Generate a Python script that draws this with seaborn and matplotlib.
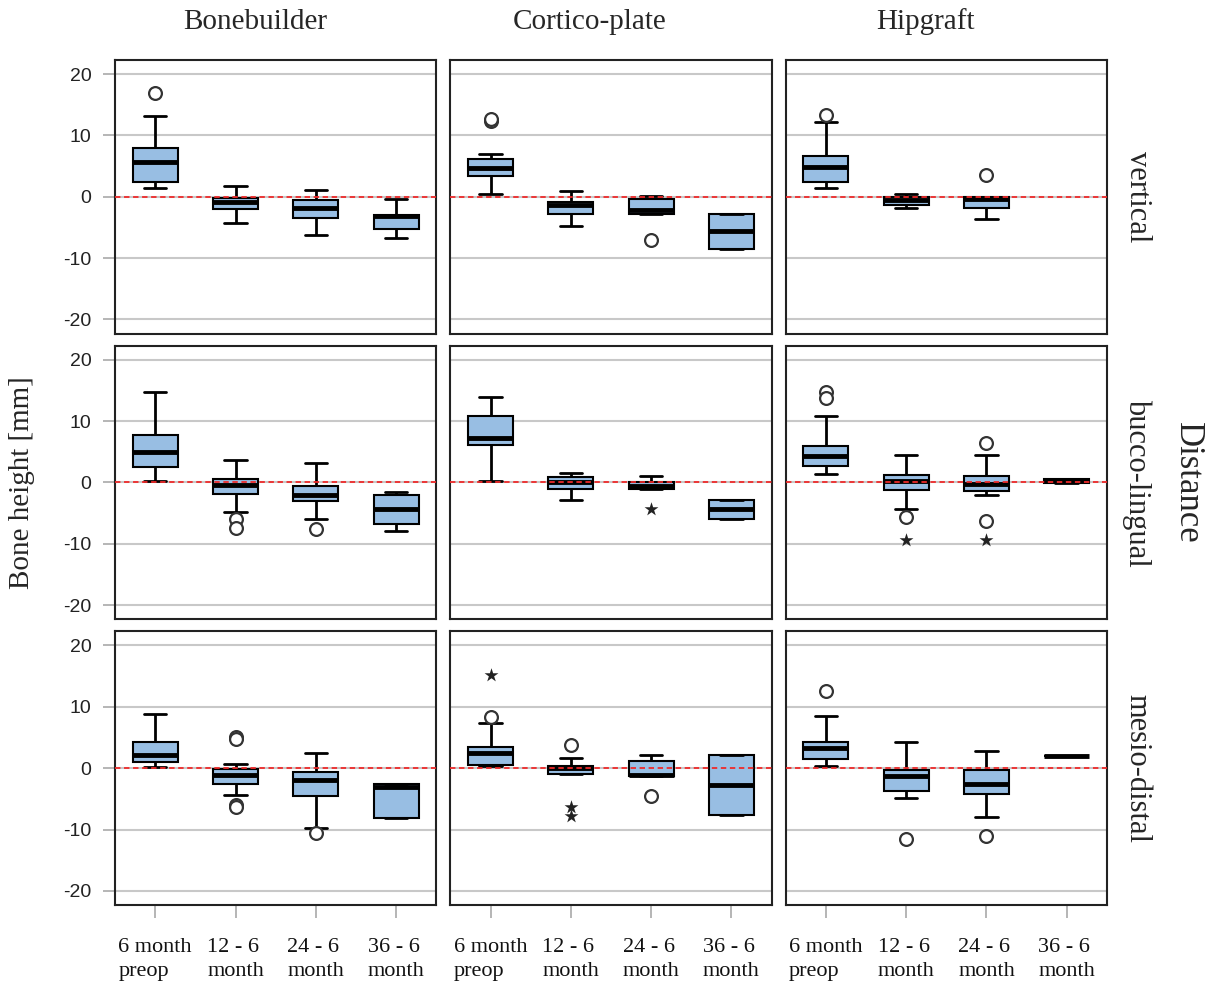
import matplotlib
matplotlib.use("Agg")
import matplotlib.pyplot as plt
import pandas as pd
import seaborn as sns

sns.set_theme(style="white")
plt.rcParams["font.family"] = ["Liberation Serif", "DejaVu Serif"]

GRAFTS = ["Bonebuilder", "Cortico-plate", "Hipgraft"]
DIRECTIONS = ["vertical", "bucco-lingual", "mesio-distal"]
PERIOD_LABELS = ["6 month\npreop", "12 - 6\nmonth", "24 - 6\nmonth", "36 - 6\nmonth"]
Y_TICKS = [-20, -10, 0, 10, 20]

# five-number summaries per period: [lower whisker, Q1, median, Q3, upper whisker]
# None = no data for that period
vertical_boxes = {
    "Bonebuilder": [[1.4, 2.4, 5.6, 7.9, 13.2], [-4.3, -2.0, -0.9, -0.2, 1.8],
                    [-6.2, -3.4, -1.8, -0.5, 1.1], [-6.8, -5.3, -3.2, -3.0, -0.3]],
    "Cortico-plate": [[0.5, 3.3, 4.7, 6.2, 6.9], [-4.7, -2.8, -1.4, -0.8, 0.9],
                      [-2.8, -2.8, -2.1, -0.3, 0.2], [-8.5, -8.5, -5.6, -2.8, -2.8]],
    "Hipgraft": [[1.5, 2.4, 4.8, 6.7, 12.2], [-1.9, -1.4, -0.6, -0.1, 0.4],
                 [-3.6, -1.9, -0.3, -0.1, -0.1], None],
}
bucco_boxes = {
    "Bonebuilder": [[0.2, 2.6, 5.0, 7.8, 14.8], [-4.8, -1.8, -0.4, 0.5, 3.7],
                    [-5.9, -3.1, -2.0, -0.5, 3.2], [-7.9, -6.8, -4.4, -2.1, -1.5]],
    "Cortico-plate": [[0.2, 6.1, 7.2, 10.8, 14.0], [-2.9, -1.1, 0.0, 0.9, 1.6],
                      [-1.1, -1.1, -0.5, 0.05, 1.0], [-5.9, -5.9, -4.4, -2.9, -2.9]],
    "Hipgraft": [[1.4, 2.7, 4.3, 5.9, 10.8], [-4.4, -1.3, 0.2, 1.2, 4.4],
                 [-2.1, -1.4, -0.3, 1.1, 4.4], [-0.1, -0.1, 0.3, 0.6, 0.6]],
}
mesio_boxes = {
    "Bonebuilder": [[0.2, 1.0, 2.2, 4.3, 8.9], [-4.3, -2.5, -1.1, -0.2, 0.65],
                    [-9.8, -4.5, -2.0, -0.6, 2.5], [-8.1, -8.1, -3.1, -2.5, -2.5]],
    "Cortico-plate": [[0.3, 0.5, 2.5, 3.4, 7.4], [-1.0, -1.0, 0.0, 0.4, 1.7],
                      [-1.2, -1.2, -1.1, 1.2, 2.1], [-7.6, -7.6, -2.8, 2.1, 2.1]],
    "Hipgraft": [[0.4, 1.5, 3.25, 4.3, 8.5], [-4.9, -3.7, -1.2, -0.3, 4.2],
                 [-7.9, -4.2, -2.6, -0.3, 2.8], [2.0, 2.0, 2.0, 2.0, 2.0]],
}

# outliers as (period index, value); circles = outliers, stars = extremes
vertical_circles = {"Bonebuilder": [(0, 16.9)],
                    "Cortico-plate": [(0, 12.3), (0, 12.7), (2, -7.1)],
                    "Hipgraft": [(0, 13.3), (2, 3.6)]}
vertical_stars = {}
bucco_circles = {"Bonebuilder": [(1, -6.0), (1, -7.4), (2, -7.6)],
                 "Hipgraft": [(0, 14.8), (0, 13.8), (1, -5.6), (2, 6.5), (2, -6.3)]}
bucco_stars = {"Cortico-plate": [(2, -4.3)],
               "Hipgraft": [(1, -9.3), (2, -9.3)]}
mesio_circles = {"Bonebuilder": [(1, 5.1), (1, 4.8), (1, -6.0), (1, -6.3), (2, -10.6)],
                 "Cortico-plate": [(0, 8.3), (1, 3.7), (2, -4.5)],
                 "Hipgraft": [(0, 12.6), (1, -11.5), (2, -11.0)]}
mesio_stars = {"Cortico-plate": [(0, 15.2), (1, -6.3), (1, -7.8)]}

ROW_BOXES = [vertical_boxes, bucco_boxes, mesio_boxes]
ROW_CIRCLES = [vertical_circles, bucco_circles, mesio_circles]
ROW_STARS = [vertical_stars, bucco_stars, mesio_stars]

BOX_COLOR = "#98bee3"
GRID_COLOR = "#c8c8c8"
TICK_COLOR = "#b0b0b0"

fig, axes = plt.subplots(3, 3, figsize=(12.15, 9.82), dpi=100)
fig.subplots_adjust(left=0.0947, right=0.911, top=0.939, bottom=0.0784,
                    wspace=0.044, hspace=0.044)

for r, direction in enumerate(DIRECTIONS):
    for c, graft in enumerate(GRAFTS):
        ax = axes[r, c]
        rows = []
        for pos, stats in enumerate(ROW_BOXES[r][graft]):
            if stats is None:
                continue
            rows += [(pos, v) for v in stats]
        df = pd.DataFrame(rows, columns=["pos", "value"])
        sns.boxplot(data=df, x="pos", y="value", native_scale=True, orient="x",
                    whis=(0, 100), width=0.56, color=BOX_COLOR, saturation=1,
                    linecolor="black", linewidth=1.5,
                    whiskerprops=dict(linewidth=2.0),
                    capprops=dict(linewidth=2.0),
                    medianprops=dict(linewidth=3.5, color="black"), ax=ax)

        circles = ROW_CIRCLES[r].get(graft, [])
        if circles:
            pts = pd.DataFrame(circles, columns=["pos", "value"])
            sns.scatterplot(data=pts, x="pos", y="value", marker="o", s=85,
                            color="white", edgecolor="#333333", linewidth=1.6,
                            ax=ax, zorder=6)
        stars = ROW_STARS[r].get(graft, [])
        if stars:
            pts = pd.DataFrame(stars, columns=["pos", "value"])
            sns.scatterplot(data=pts, x="pos", y="value", marker="*", s=110,
                            color="#222222", linewidth=0, ax=ax, zorder=6)

        ax.axhline(0, color="#ee2a2a", linestyle=(0, (3, 2)), linewidth=1.3, zorder=5)
        ax.set_xlim(-0.5, 3.5)
        ax.set_ylim(-22.3, 22.3)
        ax.set_yticks(Y_TICKS)
        ax.set_xticks(range(4))
        ax.yaxis.grid(True, color=GRID_COLOR, linewidth=1.5)
        ax.xaxis.grid(False)
        ax.set_axisbelow(True)
        ax.set_xlabel("")
        ax.set_ylabel("")
        for sp in ax.spines.values():
            sp.set_color("#222222")
            sp.set_linewidth(1.5)

        if c == 0:
            ax.set_yticklabels([str(t) for t in Y_TICKS])
            ax.tick_params(axis="y", left=True, length=9, width=1.3, color=TICK_COLOR,
                           pad=8, labelsize=14, labelcolor="#222222",
                           labelfontfamily="Liberation Sans")
        else:
            ax.tick_params(axis="y", left=False, labelleft=False)
        if r == 2:
            ax.set_xticklabels(PERIOD_LABELS, multialignment="left", linespacing=1.3)
            ax.tick_params(axis="x", bottom=True, length=9, width=1.3, color=TICK_COLOR,
                           pad=15, labelsize=16, labelcolor="#111111")
        else:
            ax.tick_params(axis="x", bottom=False, labelbottom=False)

title_x = [255 / 1215, 590 / 1215, 925 / 1215]
for graft, x in zip(GRAFTS, title_x):
    fig.text(x, 1 - 22 / 982, graft, ha="center", va="center", fontsize=21)

row_y = [1 - 197 / 982, 1 - 483 / 982, 1 - 768 / 982]
for direction, y in zip(DIRECTIONS, row_y):
    fig.text(1137 / 1215, y, direction, ha="center", va="center",
             rotation=-90, fontsize=22)

fig.text(1187 / 1215, 1 - 483 / 982, "Distance", ha="center", va="center",
         rotation=-90, fontsize=25)
fig.text(22 / 1215, 1 - 483 / 982, "Bone height [mm]", ha="center", va="center",
         rotation=90, fontsize=21)

fig.savefig("out.png", dpi=100)
